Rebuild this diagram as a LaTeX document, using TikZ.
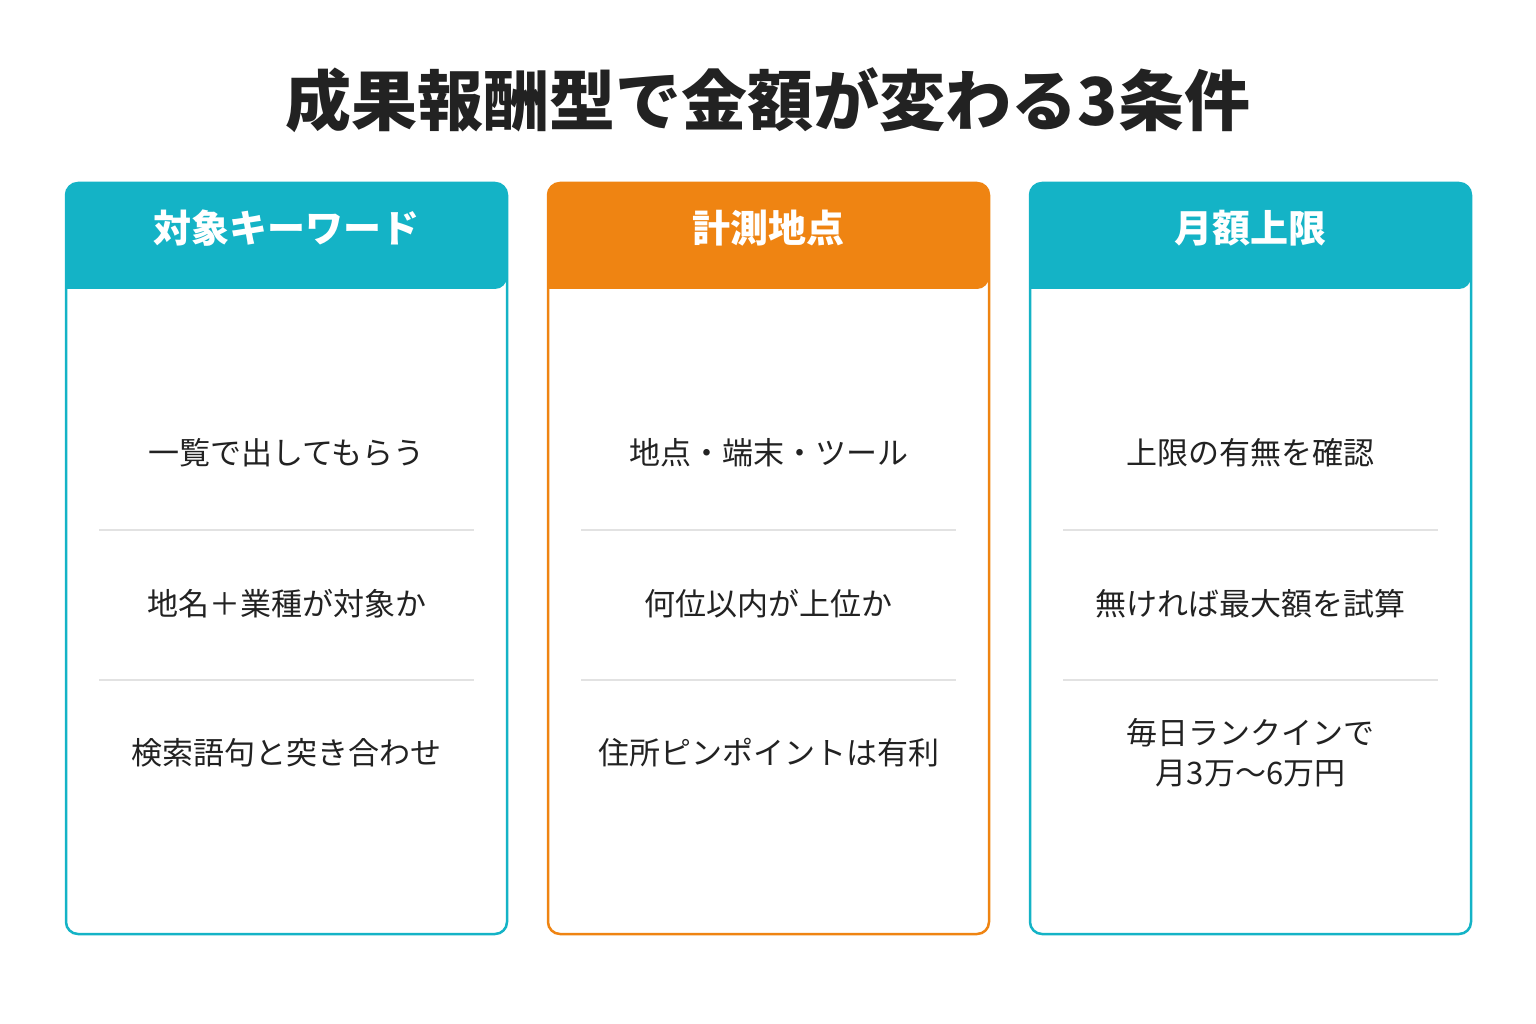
\documentclass[tikz,border=0pt]{standalone}
\usepackage{fontspec}
\setmainfont{Noto Sans CJK JP}
\usepackage{tikz}
\usetikzlibrary{positioning,calc}
\definecolor{kwteal}{HTML}{14B3C6}
\definecolor{kworange}{HTML}{EF8412}
\definecolor{kwtext}{HTML}{222222}
\definecolor{kwrule}{HTML}{E2E2E2}
\tikzset{
    card/.style={draw=#1, line width=2.5pt, rounded corners=12pt, fill=white},
    head/.style={fill=#1, rounded corners=12pt},
    headtext/.style={font=\fontsize{38}{40}\selectfont\bfseries, white},
    item/.style={font=\fontsize{31}{40}\selectfont, text=kwtext, align=center},
    sep/.style={kwrule, line width=1.5pt}
}
\begin{document}
\begin{tikzpicture}[x=1pt,y=-1pt]
    \useasboundingbox (0,0) rectangle (1536,1024);
    % Title
    \node[font=\fontsize{66}{70}\selectfont\bfseries, text=kwtext] (title) at (768,100) {成果報酬型で金額が変わる3条件};

    % Cards
    \foreach \x/\col/\name/\ha/\hb/\hc [count=\i] in {
        66/kwteal/対象キーワード/一覧で出してもらう/地名＋業種が対象か/検索語句と突き合わせ,
        548/kworange/計測地点/地点・端末・ツール/何位以内が上位か/住所ピンポイントは有利,
        1030/kwteal/月額上限/上限の有無を確認/無ければ最大額を試算/{毎日ランクインで\\月3万〜6万円}} {
        \draw[card=\col] (\x,183) rectangle (\x+441,934);
        \fill[head=\col] (\x,289) -- (\x,183) -- (\x+441,183) -- (\x+441,289) [sharp corners] -- cycle;
        \node[headtext] (head\i) at (\x+220.5,228) {\name};
        \node[item] (row\i a) at (\x+220.5,453) {\ha};
        \node[item] (row\i b) at (\x+220.5,604) {\hb};
        \node[item] (row\i c) at (\x+220.5,753) {\hc};
        \draw[sep] (\x+33,530) -- (\x+408,530);
        \draw[sep] (\x+33,680) -- (\x+408,680);
    }
\end{tikzpicture}
\end{document}
